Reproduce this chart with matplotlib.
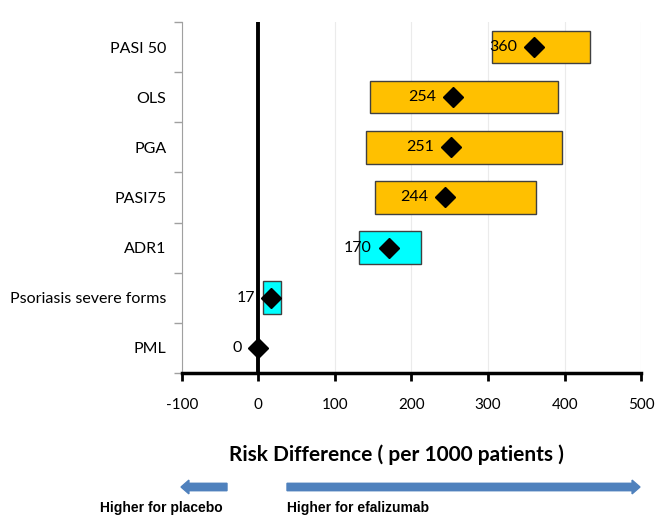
import matplotlib
matplotlib.use("Agg")
import matplotlib.pyplot as plt
from matplotlib.patches import FancyArrow

# Daten
categories = ["PASI 50", "OLS", "PGA", "PASI75", "ADR1", "Psoriasis severe forms", "PML"]
estimates = [360, 254, 251, 244, 170, 17, 0]
ci_low = [305, 146, 141, 152, 131, 6, None]
ci_high = [433, 392, 396, 363, 212, 30, None]
bar_colors = ["#FFC000", "#FFC000", "#FFC000", "#FFC000", "#00FFFF", "#00FFFF", None]
xticks = [-100, 0, 100, 200, 300, 400, 500]

plt.rcParams['font.family'] = ['Lato', 'DejaVu Sans']

fig = plt.figure(figsize=(6.61, 5.31), dpi=100)
ax = fig.add_axes([0.275, 0.2976, 0.695, 0.661])

n = len(categories)
ypos = [n - 1 - i for i in range(n)]

for y, lo, hi, c in zip(ypos, ci_low, ci_high, bar_colors):
    if lo is None:
        continue
    ax.barh(y, hi - lo, left=lo, height=0.65, color=c, edgecolor="#404040",
            linewidth=1.0, zorder=3)

ax.axvline(0, color="black", lw=2.8, zorder=4)
ax.plot(estimates, ypos, "D", color="black", markersize=10, zorder=5)

for y, e in zip(ypos, estimates):
    ax.annotate(str(e), (e, y), xytext=(-12, 0), textcoords="offset points",
                ha="right", va="center", fontsize=11.5, zorder=6)

ax.set_xlim(-100, 500)
ax.set_ylim(-0.5, n - 0.5)
ax.set_xticks(xticks)
ax.set_xticklabels([str(t) for t in xticks], fontsize=11)
ax.xaxis.grid(True, color="#EBEBEB", lw=0.8, zorder=0)

# Trennstriche zwischen Kategorien
ax.set_yticks([i - 0.5 for i in range(n + 1)])
ax.set_yticklabels([])
ax.set_yticks(ypos, minor=True)
ax.set_yticklabels(categories, minor=True, fontsize=11.5)
ax.tick_params(axis="y", which="minor", length=0, pad=11)
ax.tick_params(axis="y", which="major", length=6, color="#A0A0A0", width=1)
ax.tick_params(axis="x", length=6, width=2, color="black", pad=12)

for s in ["top", "right"]:
    ax.spines[s].set_visible(False)
ax.spines["left"].set_color("#A0A0A0")
ax.spines["bottom"].set_linewidth(2.5)

fig.text(0.60, 0.143, "Risk Difference ( per 1000 patients )", ha="center", va="center",
         fontsize=15, fontweight="bold")

blue = "#4F81BD"
fig.patches.append(FancyArrow(227 / 661, 1 - 487 / 531, -46 / 661, 0, width=0.014,
                              head_width=0.026, head_length=0.012, length_includes_head=True,
                              color=blue, transform=fig.transFigure, figure=fig))
fig.patches.append(FancyArrow(287 / 661, 1 - 487 / 531, 353 / 661, 0, width=0.014,
                              head_width=0.026, head_length=0.012, length_includes_head=True,
                              color=blue, transform=fig.transFigure, figure=fig))
fig.text(100 / 661, 1 - 508 / 531, "Higher for placebo", ha="left", va="center",
         fontsize=10, fontweight="bold", family=["Liberation Sans", "DejaVu Sans"])
fig.text(287 / 661, 1 - 508 / 531, "Higher for efalizumab", ha="left", va="center",
         fontsize=10, fontweight="bold", family=["Liberation Sans", "DejaVu Sans"])

fig.savefig("out.png", dpi=100)
